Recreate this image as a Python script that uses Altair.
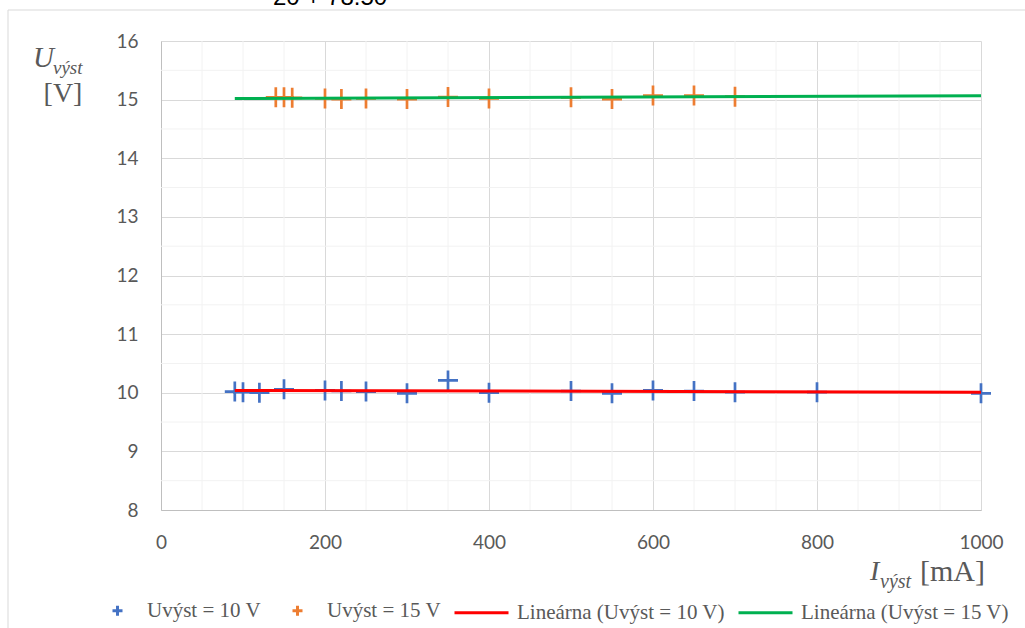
import altair as alt
import pandas as pd

# ---- data ----
I_10 = [90, 100, 120, 150, 200, 220, 250, 300, 350, 400, 500, 550, 600, 650, 700, 800, 1000]
U_10 = [10.02, 10.01, 10.00, 10.06, 10.04, 10.03, 10.02, 9.99, 10.21, 10.00, 10.03, 9.99, 10.04, 10.03, 10.01, 10.01, 9.99]
I_15 = [140, 150, 160, 200, 220, 250, 300, 350, 400, 500, 550, 600, 650, 700]
U_15 = [15.04, 15.04, 15.03, 15.02, 15.01, 15.02, 15.01, 15.045, 15.02, 15.04, 15.01, 15.07, 15.07, 15.05]

SERIES = ["Uvýst = 10 V", "Uvýst = 15 V"]
TRENDS = ["Lineárna (Uvýst = 10 V)", "Lineárna (Uvýst = 15 V)"]
POINT_COLORS = ["#4472C4", "#ED7D31"]
LINE_COLORS = ["#FF0000", "#00B050"]

X_TICKS = [0, 200, 400, 600, 800, 1000]
Y_TICKS = [8, 9, 10, 11, 12, 13, 14, 15, 16]
X_MINOR = [50, 100, 150, 250, 300, 350, 450, 500, 550, 650, 700, 750, 850, 900, 950]
Y_MINOR = [8.5, 9.5, 10.5, 11.5, 12.5, 13.5, 14.5, 15.5]
TREND_EXTENT = [90, 1000]
TOP_TEXT = "20 + 78.50"

rows = []
for i, u in zip(I_10, U_10):
    rows.append({"I": i, "U": u, "series": SERIES[0], "trend": TRENDS[0]})
for i, u in zip(I_15, U_15):
    rows.append({"I": i, "U": u, "series": SERIES[1], "trend": TRENDS[1]})
df = pd.DataFrame(rows)

GRAY_TXT = "#595959"
GRID_MAJOR = "#D9D9D9"
GRID_MINOR = "#F2F2F2"
AXIS_LINE = "#BFBFBF"
LABEL_FONT = "Lato"
SERIF = "Liberation Serif"

CROSS = "M-1,0L1,0M0,-1L0,1"

x_scale = alt.Scale(domain=[0, 1000], nice=False, zero=False)
y_scale = alt.Scale(domain=[8, 16], nice=False, zero=False)

x_axis = alt.Axis(values=X_TICKS, title=None, grid=True, gridColor=GRID_MAJOR, gridWidth=1,
                  domainColor=AXIS_LINE, domainWidth=1, ticks=False, labelPadding=23, format="d",
                  labelFont=LABEL_FONT, labelFontSize=19, labelColor=GRAY_TXT, labelFlush=False)
y_axis = alt.Axis(values=Y_TICKS, title=None, grid=True, gridColor=GRID_MAJOR, gridWidth=1,
                  domainColor=AXIS_LINE, domainWidth=1, ticks=False, labelPadding=23, format="d",
                  labelFont=LABEL_FONT, labelFontSize=19, labelColor=GRAY_TXT, labelFlush=False)

point_legend = alt.Legend(
    title=None, orient="none", legendX=-54, legendY=559, direction="horizontal", columns=2,
    columnPadding=25, labelOffset=19, symbolType=CROSS, symbolSize=100, symbolStrokeWidth=3,
    symbolFillColor="transparent",
    labelFont=SERIF, labelFontSize=21, labelColor=GRAY_TXT, labelLimit=0,
)
line_legend = alt.Legend(
    title=None, orient="none", legendX=292, legendY=543, direction="horizontal", columns=2,
    columnPadding=7, labelOffset=7, symbolType="stroke", symbolSize=2916, symbolStrokeWidth=3,
    labelFont=SERIF, labelFontSize=21, labelColor=GRAY_TXT, labelLimit=0,
)

one = pd.DataFrame({"k": [0]})

vminor = alt.Chart(pd.DataFrame({"v": X_MINOR})).mark_rule(color=GRID_MINOR, strokeWidth=1).encode(
    x=alt.X("v:Q", scale=x_scale, axis=x_axis))
hminor = alt.Chart(pd.DataFrame({"h": Y_MINOR})).mark_rule(color=GRID_MINOR, strokeWidth=1).encode(
    y=alt.Y("h:Q", scale=y_scale, axis=y_axis))

points = alt.Chart(df).mark_point(shape=CROSS, size=400, filled=False, strokeWidth=2.7, opacity=1).encode(
    x=alt.X("I:Q", scale=x_scale, axis=x_axis),
    y=alt.Y("U:Q", scale=y_scale, axis=y_axis),
    stroke=alt.Stroke("series:N", scale=alt.Scale(domain=SERIES, range=POINT_COLORS), legend=point_legend),
)

lines = alt.Chart(df).transform_regression("I", "U", groupby=["trend"], extent=TREND_EXTENT).mark_line(
    strokeWidth=3).encode(
    x=alt.X("I:Q", scale=x_scale, axis=x_axis),
    y=alt.Y("U:Q", scale=y_scale, axis=y_axis),
    color=alt.Color("trend:N", scale=alt.Scale(domain=TRENDS, range=LINE_COLORS), legend=line_legend),
)

def txt(s, x, y, size, font=SERIF, style="normal", align="left", color=GRAY_TXT):
    return alt.Chart(one).mark_text(text=s, font=font, fontSize=size, fontStyle=style, align=align,
                                    baseline="alphabetic", color=color).encode(
        x=alt.value(x), y=alt.value(y))

titles = [
    txt("U", -128, 26, 29, style="italic"),
    txt("výst", -108, 33, 19, style="italic"),
    txt("[V]", -98, 61, 28, align="center"),
    txt("I", 709, 539, 28, style="italic"),
    txt("výst", 719, 547, 20, style="italic"),
    txt("[mA]", 759, 540, 30),
    txt(TOP_TEXT, 112, -36, 24, font="Liberation Sans", color="#000000"),
]

border_left = alt.Chart(one).mark_rule(color=GRID_MAJOR, strokeWidth=1).encode(
    x=alt.value(-153), y=alt.value(-31), y2=alt.value(600))
border_top = alt.Chart(one).mark_rule(color=GRID_MAJOR, strokeWidth=1).encode(
    x=alt.value(-153), x2=alt.value(880), y=alt.value(-31))

chart = alt.layer(vminor, hminor, points, lines, border_left, border_top, *titles).properties(
    width=820, height=469,
    autosize=alt.AutoSizeParams(type="none"),
    padding={"left": 161, "top": 41, "right": 44, "bottom": 118},
    background="white",
).resolve_legend(color="independent", stroke="independent").configure_view(stroke=None)

chart.save("out.html", embed_options={"renderer": "svg", "actions": False})
